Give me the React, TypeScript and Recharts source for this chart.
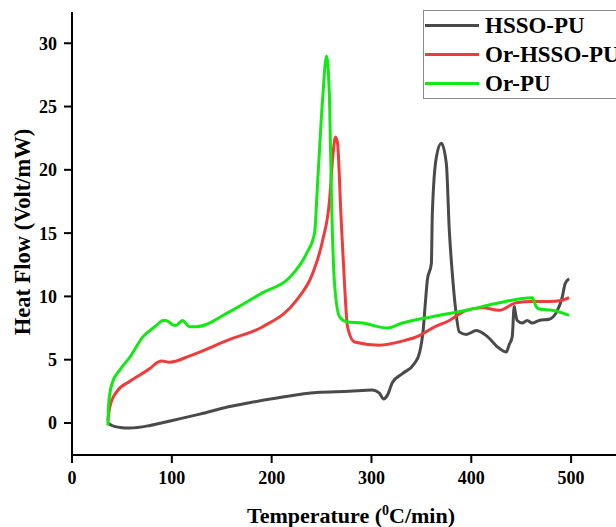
import { Legend, Line, LineChart, XAxis, YAxis } from "recharts";

// DSC traces, temperature (°C) vs heat flow (Volt/mW)
const hssoTemp = [36, 40, 48, 58, 78, 95, 128, 158, 178, 211, 245, 278, 301, 308, 312, 316, 321, 331, 343, 348, 352, 354, 356, 360, 361, 365, 370, 375, 378, 381, 384, 388, 395, 405, 415, 428, 435, 438, 441, 443, 444, 446, 451, 456, 461, 468, 478, 485, 491, 494, 498];
const hssoFlow = [0, -0.2, -0.35, -0.4, -0.2, 0.1, 0.7, 1.3, 1.6, 2.05, 2.4, 2.5, 2.6, 2.35, 1.9, 2.2, 3.2, 3.9, 4.7, 5.5, 7.5, 9.5, 11.3, 12.6, 16.6, 21, 22.1, 20.5, 15.2, 11.8, 9.2, 7.2, 7.0, 7.3, 6.9, 5.9, 5.6, 6.2, 6.8, 9.2, 8.8, 8.1, 7.9, 8.1, 7.9, 8.1, 8.2, 8.7, 9.9, 11.0, 11.4];

const orHssoTemp = [36, 38, 45, 58, 78, 86, 90, 98, 118, 158, 191, 225, 241, 251, 258, 261, 264, 266, 269.5, 273, 276, 283, 308, 330, 348, 361, 378, 395, 411, 428, 445, 461, 478, 491, 498];
const orHssoFlow = [0.2, 1.3, 2.5, 3.3, 4.3, 4.8, 4.9, 4.8, 5.3, 6.6, 7.6, 9.7, 11.8, 14.4, 17.6, 20.8, 22.6, 22.1, 16.3, 11.0, 7.6, 6.4, 6.15, 6.45, 6.9, 7.5, 8.1, 8.9, 9.1, 8.9, 9.5, 9.6, 9.6, 9.7, 9.9];

const orPuTemp = [36, 36.5, 40, 48, 58, 71, 84.5, 91, 94, 103, 106, 110.5, 118, 124.5, 158, 191, 218, 235, 243, 246, 251, 255, 258, 260, 263, 268, 275, 291, 316, 331, 361, 395, 428, 461, 465, 468, 481, 491, 498];
const orPuFlow = [-0.2, 1.3, 3.1, 4.2, 5.2, 6.8, 7.7, 8.1, 8.1, 7.7, 7.8, 8.1, 7.6, 7.6, 8.8, 10.3, 11.5, 13.4, 15.0, 18.9, 25.5, 29.0, 25.5, 17.6, 11.0, 8.4, 8.0, 7.9, 7.5, 7.9, 8.4, 8.9, 9.5, 9.9, 9.2, 9.0, 8.9, 8.7, 8.5];

const xTicks = [0, 100, 200, 300, 400, 500];
const yTicks = [0, 5, 10, 15, 20, 25, 30];

const series = [
  { name: "HSSO-PU", color: "#4a4a4a", data: hssoTemp.map((t, i) => ({ t, v: hssoFlow[i] })) },
  { name: "Or-HSSO-PU", color: "#ef3b3b", data: orHssoTemp.map((t, i) => ({ t, v: orHssoFlow[i] })) },
  { name: "Or-PU", color: "#12e812", data: orPuTemp.map((t, i) => ({ t, v: orPuFlow[i] })) },
];

const font = "'Liberation Serif', 'Times New Roman', serif";
const tickStyle = { fill: "#000", fontSize: 18, fontWeight: "bold", fontFamily: font };

function LegendBox() {
  return (
    <div
      style={{
        boxSizing: "border-box",
        width: 300,
        minWidth: 300,
        height: 89,
        border: "1px solid #8a8a8a",
        background: "#fff",
        fontFamily: font,
        fontWeight: "bold",
        fontSize: 23,
        lineHeight: "29.5px",
        color: "#000",
        whiteSpace: "nowrap",
      }}
    >
      {series.map((s) => (
        <div key={s.name} style={{ height: 29, display: "flex", alignItems: "center" }}>
          <div style={{ width: 54, height: 3, flexShrink: 0, background: s.color, marginLeft: 1, marginRight: 6 }} />
          <span>{s.name}</span>
        </div>
      ))}
    </div>
  );
}

export default function App() {
  return (
    <div style={{ position: "absolute", left: 0, top: 0, width: 616, height: 527, overflow: "hidden", background: "#fff" }}>
      <LineChart width={640} height={527} margin={{ top: 12, right: 9, bottom: 32, left: 12 }}>
        <XAxis
          xAxisId="top"
          orientation="top"
          type="number"
          dataKey="t"
          domain={[0, 560]}
          height={0}
          tick={false}
          tickLine={false}
          axisLine={{ stroke: "#000", strokeWidth: 2 }}
        />
        <XAxis
          type="number"
          dataKey="t"
          domain={[0, 560]}
          ticks={xTicks}
          allowDataOverflow
          height={40}
          tickSize={8}
          tickMargin={8}
          tick={tickStyle}
          axisLine={{ stroke: "#000", strokeWidth: 2 }}
          tickLine={{ stroke: "#000", strokeWidth: 2 }}
          label={() => (
            <text x={351} y={523} textAnchor="middle" fontFamily={font} fontWeight="bold" fontSize={22} fill="#000">
              Temperature (<tspan dy={-8} fontSize={14}>0</tspan>
              <tspan dy={8}>C/min)</tspan>
            </text>
          )}
        />
        <YAxis
          type="number"
          domain={[-2.53, 32.47]}
          ticks={yTicks}
          allowDataOverflow
          width={60}
          tickSize={8}
          tickMargin={7}
          tick={tickStyle}
          axisLine={{ stroke: "#000", strokeWidth: 2 }}
          tickLine={{ stroke: "#000", strokeWidth: 2 }}
          label={() => (
            <text
              x={22}
              y={232}
              transform="rotate(-90, 22, 232)"
              textAnchor="middle"
              dominantBaseline="central"
              fontFamily={font}
              fontWeight="bold"
              fontSize={22.5}
              fill="#000"
            >
              Heat Flow (Volt/mW)
            </text>
          )}
        />
        <Legend
          layout="vertical"
          align="center"
          verticalAlign="middle"
          content={() => <LegendBox />}
          wrapperStyle={{ left: 423, top: 10, width: 300, height: 89 }}
        />
        {series.map((s) => (
          <Line
            key={s.name}
            data={s.data}
            dataKey="v"
            name={s.name}
            type="monotone"
            stroke={s.color}
            strokeWidth={3}
            dot={false}
            isAnimationActive={false}
          />
        ))}
      </LineChart>
    </div>
  );
}
